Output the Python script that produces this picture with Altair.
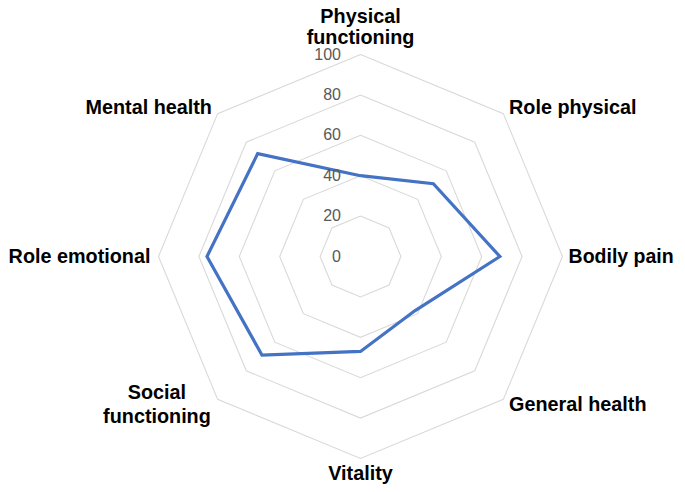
import altair as alt
import pandas as pd

categories = ["Physical\nfunctioning", "Role physical", "Bodily pain", "General health",
              "Vitality", "Social\nfunctioning", "Role emotional", "Mental health"]
values = [40, 51, 69, 38, 47, 69, 76, 72]
levels = [20, 40, 60, 80, 100]
tick_labels = [0, 20, 40, 60, 80, 100]

n = len(categories)

# rings (closed polygons)
ring_rows = []
for lv in levels:
    for i in range(n + 1):
        ring_rows.append({"level": lv, "idx": i})
rings = pd.DataFrame(ring_rows)

# series (closed)
series = pd.DataFrame({"idx": list(range(n + 1)), "value": values + values[:1]})

labels = pd.DataFrame({"idx": list(range(n)), "label": categories})
ticks = pd.DataFrame({"t": tick_labels, "txt": [str(t) for t in tick_labels]})

W, H = 669, 476
k = 2.02
cx, cy = 352.5, 248.5
xs = alt.Scale(domain=[-cx / k, (W - cx) / k], range=[0, W], nice=False, zero=False)
ys = alt.Scale(domain=[-(H - cy) / k, cy / k], range=[H, 0], nice=False, zero=False)

X = alt.X("px:Q", scale=xs, axis=None)
Y = alt.Y("py:Q", scale=ys, axis=None)

ring_layer = alt.Chart(rings).transform_calculate(
    ang=f"datum.idx*2*PI/{n}",
    px="datum.level*sin(datum.ang)",
    py="datum.level*cos(datum.ang)",
).mark_line(color="#d9d9d9", strokeWidth=1.1).encode(
    x=X, y=Y, detail="level:N", order="idx:Q"
)

series_layer = alt.Chart(series).transform_calculate(
    ang=f"datum.idx*2*PI/{n}",
    px="datum.value*sin(datum.ang)",
    py="datum.value*cos(datum.ang)",
).mark_line(color="#4472C4", strokeWidth=3.2, strokeJoin="miter").encode(
    x=X, y=Y, order="idx:Q"
)

def label_base():
    return alt.Chart(labels).transform_calculate(
        ang=f"datum.idx*2*PI/{n}",
        r="datum.idx==0 ? 114.5 : (datum.idx==4 ? 107.5 : 104)",
        px="datum.r*sin(datum.ang)",
        py="datum.r*cos(datum.ang)",
    )

font = "Liberation Sans"
FS = 19.8
tstyle = dict(font=font, fontWeight="bold", color="#000000",
              baseline="middle", lineBreak="\n")

lab_top = label_base().transform_filter("datum.idx==0").mark_text(
    align="center", dy=-8.5, fontSize=FS, lineHeight=21, **tstyle).encode(x=X, y=Y, text="label:N")
lab_bottom = label_base().transform_filter("datum.idx==4").mark_text(
    align="center", fontSize=FS, **tstyle).encode(x=X, y=Y, text="label:N")
lab_right = label_base().transform_filter("datum.idx==1 || datum.idx==3").mark_text(
    align="left", fontSize=FS, **tstyle).encode(x=X, y=Y, text="label:N")
lab_pain = label_base().transform_filter("datum.idx==2").mark_text(
    align="left", dx=-2, fontSize=19.5, **tstyle).encode(x=X, y=Y, text="label:N")
lab_left = label_base().transform_filter("datum.idx==6 || datum.idx==7").mark_text(
    align="right", fontSize=FS, **tstyle).encode(x=X, y=Y, text="label:N")
lab_social = label_base().transform_filter("datum.idx==5").mark_text(
    align="center", dx=-55, dy=-12, fontSize=FS, lineHeight=24, **tstyle).encode(x=X, y=Y, text="label:N")

tick_layer = alt.Chart(ticks).transform_calculate(
    px="0", py="datum.t"
).mark_text(align="right", baseline="middle", dx=-19.5, font=font, fontSize=16,
            color="#595959").encode(x=X, y=Y, text="txt:N")

chart = alt.layer(
    ring_layer, series_layer, tick_layer, lab_top, lab_bottom, lab_right, lab_pain,
    lab_left, lab_social
).properties(
    width=W, height=H, padding=0, autosize=alt.AutoSizeParams(type="none"),
    background="white"
).configure_view(stroke=None)

chart.save("out.html", embed_options={"renderer": "svg", "actions": False})
